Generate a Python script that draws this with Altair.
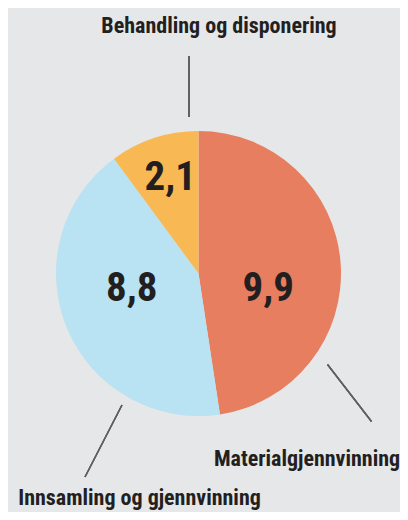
import altair as alt
import pandas as pd

# ---- data ----
categories = ["Materialgjennvinning", "Innsamling og gjennvinning", "Behandling og disponering"]
values = [9.9, 8.8, 2.1]
value_labels = ["9,9", "8,8", "2,1"]
order_idx = [0, 1, 2]
colors = ["#E67E5F", "#B9E2F2", "#F8B853"]

df = pd.DataFrame({
    "kategori": categories,
    "verdi": values,
    "etikett": value_labels,
    "rekkefolge": order_idx,
})

# ---- layout / style ----
W, H = 392, 504
CX, CY = 190.5, 265.5
R = 142.5
FONT = "Roboto Condensed, Liberation Sans Narrow, DejaVu Sans Condensed, sans-serif"
INK = "#231F20"
LINE = "#5f5f5f"

base = alt.Chart(df)

pie = base.mark_arc(radius=R, x=CX, y=CY).encode(
    theta=alt.Theta("verdi:Q", stack=True),
    color=alt.Color("kategori:N", scale=alt.Scale(domain=categories, range=colors), legend=None),
    order=alt.Order("rekkefolge:Q"),
)


def number_layer(cat, r, dx, dy):
    return base.mark_text(
        radius=r, x=CX, y=CY, dx=dx, dy=dy, font=FONT, fontSize=41,
        fontWeight="bold", color=INK, align="center", baseline="middle",
    ).encode(
        theta=alt.Theta("verdi:Q", stack=True),
        order=alt.Order("rekkefolge:Q"),
        text=alt.condition(alt.datum.kategori == cat, alt.Text("etikett:N"), alt.value("")),
    )


numbers = [
    number_layer(categories[0], 70, 0, 21),
    number_layer(categories[1], 70, -2, -11),
    number_layer(categories[2], 100, 3, 0),
]


def name_layer(cat, x, y):
    return base.transform_filter(alt.datum.kategori == cat).mark_text(
        font=FONT, fontSize=22, fontWeight="bold", color=INK,
        align="center", baseline="alphabetic",
    ).encode(
        x=alt.value(x), y=alt.value(y), text="kategori:N",
    )


names = [
    name_layer(categories[0], 299, 458),
    name_layer(categories[1], 131.5, 497),
    name_layer(categories[2], 211, 25),
]


def leader(x1, y1, x2, y2):
    return base.mark_rule(color=LINE, strokeWidth=1.4).encode(
        x=alt.value(x1), y=alt.value(y1), x2=alt.value(x2), y2=alt.value(y2)
    )


leaders = [
    leader(181, 48, 181, 109),
    leader(319.5, 356.5, 363.5, 413.5),
    leader(114, 397, 77, 469),
]

chart = alt.layer(pie, *numbers, *names, *leaders).properties(
    width=W, height=H, padding=0, autosize=alt.AutoSizeParams(type="none"),
    background="#E6E7E9",
).configure_view(stroke=None)

chart.save("out.html", embed_options={"renderer": "svg", "actions": False})
